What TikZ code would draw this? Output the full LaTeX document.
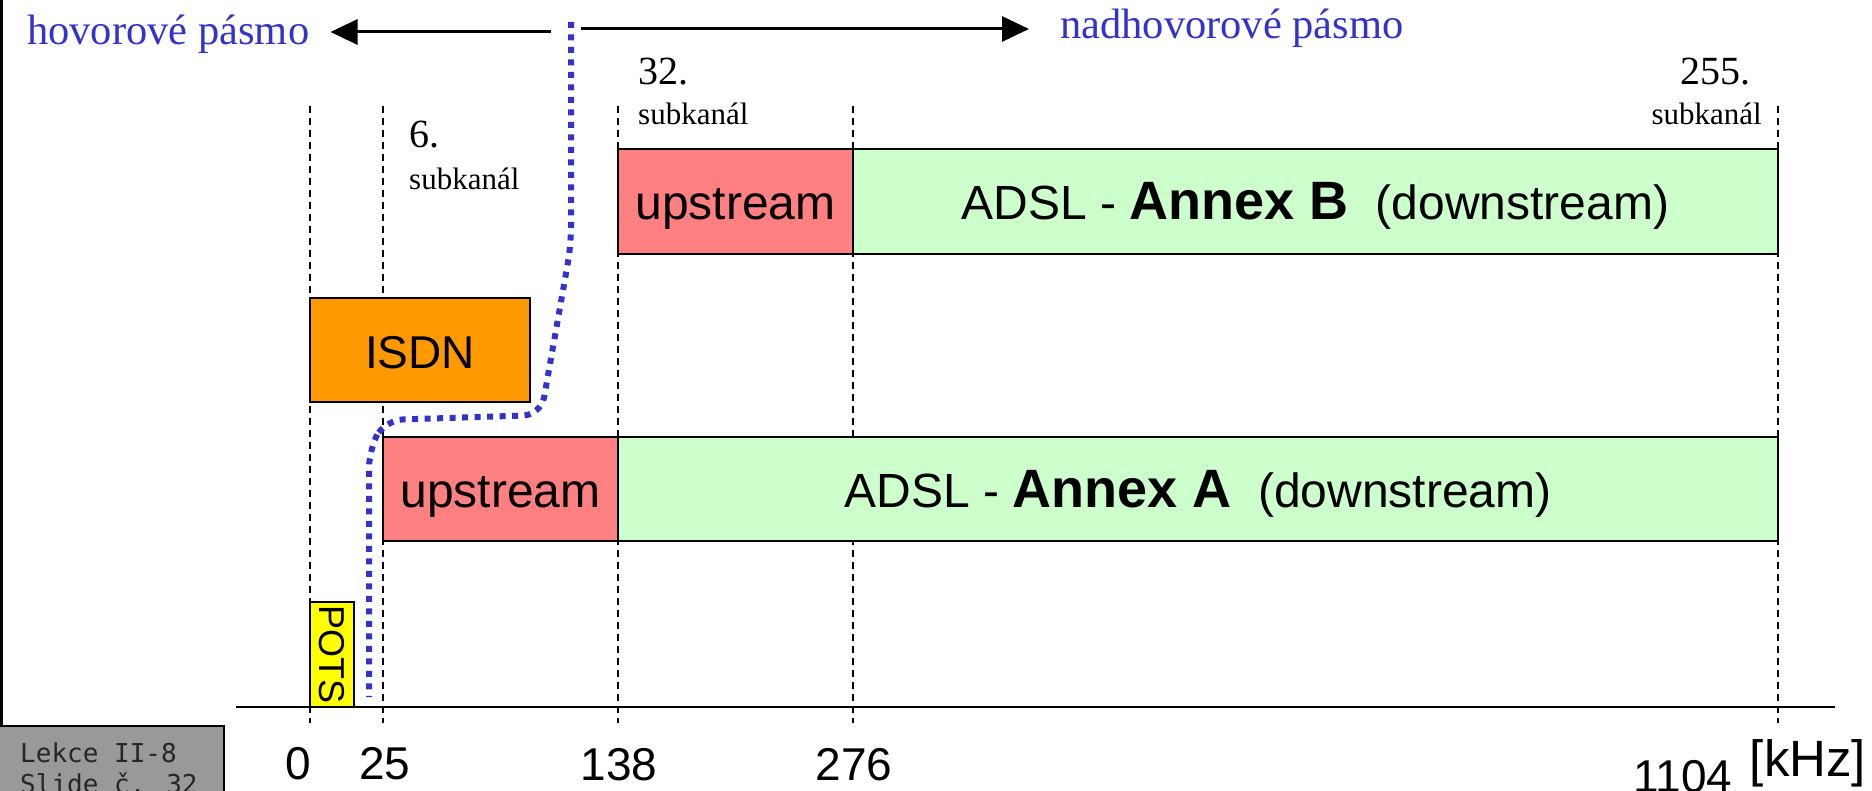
\documentclass[tikz,border=0pt]{standalone}
\usepackage{fontspec}
\setmainfont{Liberation Serif}
\newfontfamily\arialf{Liberation Sans}
\newfontfamily\monof{DejaVu Sans Mono}
\newcommand\annexfont{\arialf\bfseries\fontsize{54}{60}\selectfont}
\usetikzlibrary{arrows.meta}
\definecolor{upred}{RGB}{255,128,128}
\definecolor{dngreen}{RGB}{204,255,204}
\definecolor{isdnor}{RGB}{255,153,0}
\definecolor{potsy}{RGB}{255,255,0}
\definecolor{bandblue}{RGB}{51,51,204}
\definecolor{slidegray}{RGB}{153,153,153}
\begin{document}
\begin{tikzpicture}[x=1pt,y=-1pt,
  band/.style={draw=black, line width=2pt, inner sep=0pt, outer sep=0pt, anchor=north west,
    font=\arialf\fontsize{48}{54}\selectfont, text height=49pt, text depth=12pt},
  vguide/.style={black, line width=1.6pt, dash pattern=on 7pt off 5pt},
  arr/.style={line width=3pt, -{Triangle[length=27pt,width=25pt]}},
  serlbl/.style={inner sep=0pt, font=\fontsize{40}{46}\selectfont},
  sublbl/.style={inner sep=0pt, font=\fontsize{31}{36}\selectfont},
  ticklbl/.style={inner sep=0pt, anchor=base, font=\arialf\fontsize{46}{52}\selectfont},
  bandtxt/.style={inner sep=0pt, anchor=base west, text=bandblue, font=\fontsize{42.5}{48}\selectfont}
]
\useasboundingbox (0,0) rectangle (1872,791);

% left frame bar and slide box
\fill[black] (0,0) rectangle (3,726);
\node[draw=black, line width=2pt, fill=slidegray, anchor=north west, inner sep=0pt, outer sep=0pt,
  minimum width=225, minimum height=80] (slide) at (-1,726) {};
\node[inner sep=0pt, anchor=base west, text=black!85, font=\monof\fontsize{26}{32}\selectfont] (slide1) at (20,762) {Lekce II-8};
\node[inner sep=0pt, anchor=base west, text=black!85, font=\monof\fontsize{26}{32}\selectfont] (slide2) at (20,793) {Slide č. 32};

% vertical dashed guides
\foreach \gx in {310,383,618,853,1778}
  \draw[vguide] (\gx,106) -- (\gx,723);

% axis
\coordinate (axL) at (236,707);
\coordinate (axR) at (1835,707);
\draw[line width=2.2pt] (axL) -- (axR);

% bands
\node[band, fill=upred, minimum width=235, minimum height=105] (upB) at (618,149) {upstream};
\node[band, fill=dngreen, minimum width=925, minimum height=105] (dnB) at (853,149)
  {ADSL - {\annexfont Annex B}\ \ (downstream)};
\node[band, fill=isdnor, minimum width=220, minimum height=104,
  font=\arialf\fontsize{46}{52}\selectfont] (isdn) at (310,298) {ISDN};
\node[band, fill=upred, minimum width=235, minimum height=104] (upA) at (383,437) {upstream};
\node[band, fill=dngreen, minimum width=1160, minimum height=104] (dnA) at (618,437)
  {ADSL - {\annexfont Annex A}\ \ (downstream)};
\node[draw=black, line width=2pt, inner sep=0pt, outer sep=0pt, anchor=north west,
  fill=potsy, minimum width=44, minimum height=105,
  font=\arialf\fontsize{36}{40}\selectfont] (pots) at (310,602) {\rotatebox{-90}{POTS}};

% subchannel labels
\node[serlbl, anchor=base west] (n6) at (409,148) {6.};
\node[sublbl, anchor=base west] (s6) at (409,190) {subkanál};
\node[serlbl, anchor=base west] (n32) at (638,85) {32.};
\node[sublbl, anchor=base west] (s32) at (638,125) {subkanál};
\node[serlbl, anchor=base east] (n255) at (1751,85) {255.};
\node[sublbl, anchor=base east] (s255) at (1762,125) {subkanál};

% tick labels
\node[ticklbl] (t0) at (298,779) {0};
\node[ticklbl] (t25) at (385,779) {25};
\node[ticklbl] (t138) at (619,780) {138};
\node[ticklbl] (t276) at (854,780) {276};
\node[ticklbl] (t1104) at (1683,792) {1104};
\node[ticklbl, font=\arialf\fontsize{51}{56}\selectfont] (unit) at (1808,776) {[kHz]};

% band labels and arrows
\node[bandtxt] (hov) at (27,45) {hovorové pásmo};
\node[bandtxt] (nad) at (1060,39) {nadhovorové pásmo};
\coordinate (divL) at (551,32);
\coordinate (divR) at (581,29);
\draw[arr] (divL) -- ([xshift=21pt]hov.east |- divL);
\draw[arr] (divR) -- ([xshift=-31pt]nad.west |- divR);

% dotted boundary between voice band and upper band
\draw[bandblue, line width=6pt, dash pattern=on 6pt off 6.5pt, rounded corners=18pt]
  (571,22) -- (571,245) -- (541,415) -- (385,420) -- (369,450) -- (369,697);
\end{tikzpicture}
\end{document}
